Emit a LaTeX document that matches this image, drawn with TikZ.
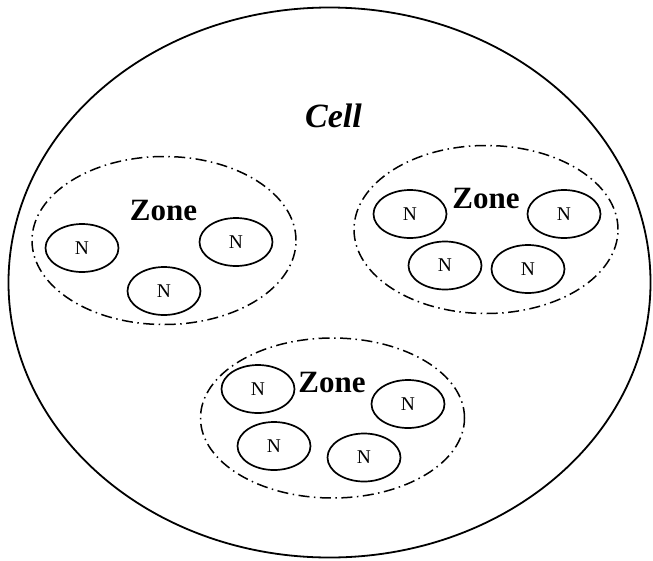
\documentclass[tikz,border=0pt]{standalone}
\usepackage{fontspec}
\setmainfont{Liberation Serif}
\usetikzlibrary{shapes.geometric}
\begin{document}
\begin{tikzpicture}[x=1pt,y=-1pt,
  cellring/.style={draw,ellipse,line width=1.8pt,inner sep=0pt,
    minimum width=642pt,minimum height=550pt},
  zonering/.style={draw,ellipse,line width=1.5pt,inner sep=0pt,
    minimum width=264pt,minimum height=168pt,
    dash pattern=on 11pt off 4.5pt on 1.5pt off 4.5pt},
  nodering/.style={draw,ellipse,line width=1.7pt,inner sep=0pt,
    minimum width=73pt,minimum height=48pt,font=\fontsize{19.5}{19.5}\selectfont},
  zonelabel/.style={anchor=base,inner sep=0pt,font=\fontsize{31}{31}\selectfont\bfseries},
  celllabel/.style={anchor=base,inner sep=0pt,font=\fontsize{34}{34}\selectfont\bfseries\itshape}]
\useasboundingbox (0,0) rectangle (653,560);

% the cell
\node[cellring] (cell) at (329.5,282.5) {};
\node[celllabel] (celltext) at (333.5,127.5) {Cell};

% left zone
\node[zonering] (zoneL) at (164,240.5) {};
\node[zonelabel] (zoneLtext) at (163.5,220) {Zone};
\node[nodering] (nL1) at (82,248) {N};
\node[nodering] (nL2) at (164,291) {N};
\node[nodering] (nL3) at (236,242) {N};

% right zone
\node[zonering] (zoneR) at (486,229.5) {};
\node[zonelabel] (zoneRtext) at (486,208.5) {Zone};
\node[nodering] (nR1) at (410,214) {N};
\node[nodering] (nR2) at (564,214) {N};
\node[nodering] (nR3) at (445,265.5) {N};
\node[nodering] (nR4) at (528,269) {N};

% bottom zone
\node[zonering,minimum height=160pt] (zoneB) at (332.5,418) {};
\node[zonelabel] (zoneBtext) at (332,392.5) {Zone};
\node[nodering] (nB1) at (258,389) {N};
\node[nodering] (nB2) at (408,404) {N};
\node[nodering] (nB3) at (274,446) {N};
\node[nodering] (nB4) at (364,457.5) {N};
\end{tikzpicture}
\end{document}
